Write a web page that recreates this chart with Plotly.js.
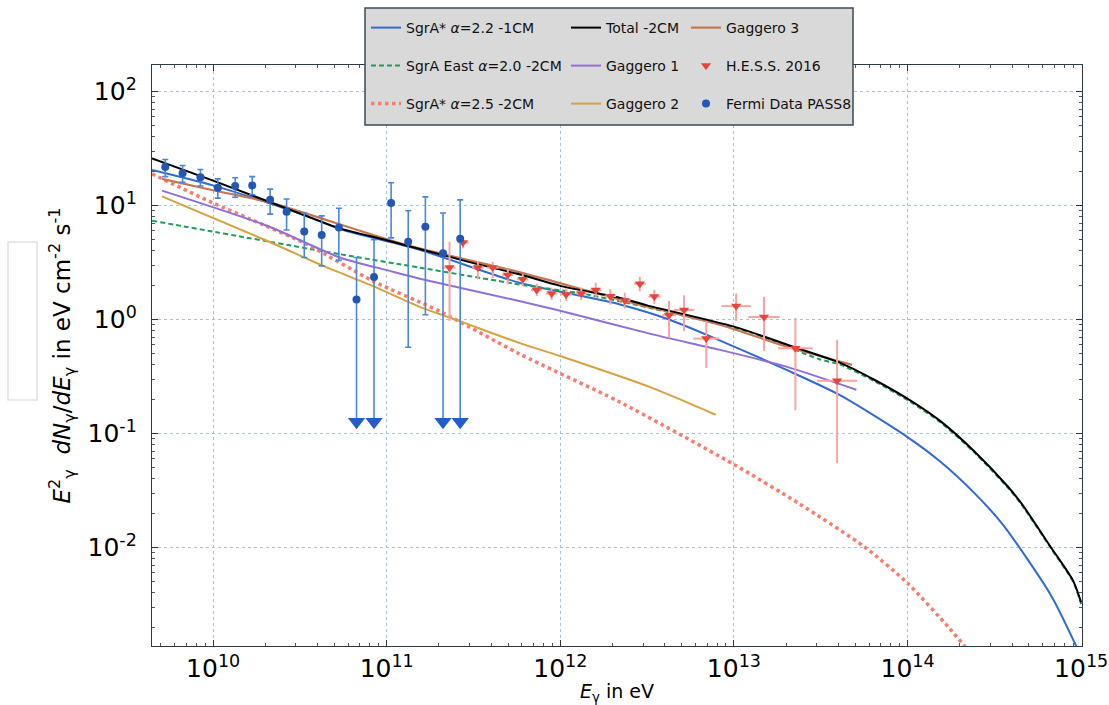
<!DOCTYPE html>
<html>
<head>
<meta charset="utf-8">
<script src="https://cdn.plot.ly/plotly-3.0.1.min.js"></script>
<style>html,body{margin:0;padding:0;background:#fff;}#chart{width:1109px;height:705px;}</style>
</head>
<body>
<div id="chart"></div>
<script>
// ---------- data (energies in eV, flux E^2 dN/dE in eV cm^-2 s^-1) ----------
const totalE = [4.45e9, 1e10, 3.16e10, 5.37e10, 1e11, 3.16e11, 5.8e11, 1e12, 2.19e12, 3.16e12, 1e13, 2.24e13, 4.13e13, 6.43e13, 1.02e14, 1.56e14, 2.43e14, 3.78e14, 4.52e14, 6.71e14, 9.0e14, 1e15];
const totalF = [25.9, 16.5, 8.5, 6.3, 4.95, 3.12, 2.49, 1.97, 1.55, 1.33, 0.865, 0.57, 0.414, 0.296, 0.198, 0.127, 0.0695, 0.0343, 0.0245, 0.0100, 0.0051, 0.0033];

const sgra22E = [4.45e9, 1e10, 3.16e10, 5.37e10, 1.55e11, 5.8e11, 1.13e12, 2.18e12, 4.23e12, 8.2e12, 1.98e13, 4.13e13, 1.0e14, 1.56e14, 2.43e14, 3.55e14, 6.71e14, 9.6e14];
const sgra22F = [20.5, 15.0, 8.5, 6.2, 4.08, 2.1, 1.69, 1.36, 1.0, 0.66, 0.365, 0.215, 0.093, 0.056, 0.030, 0.0158, 0.0038, 0.00126];

const sgraEastE = [4.45e9, 5.37e10, 1.55e11, 5.8e11, 1.41e12, 5.27e12, 1.27e13, 3.08e13, 4.13e13, 6.43e13, 1.02e14, 1.56e14, 2.43e14, 3.78e14, 4.52e14, 6.71e14, 9.0e14, 1e15];
const sgraEastF = [7.35, 3.74, 2.85, 2.03, 1.66, 1.07, 0.763, 0.45, 0.40, 0.288, 0.193, 0.124, 0.068, 0.0335, 0.024, 0.0098, 0.005, 0.0032];

const sgra25E = [4.45e9, 1e10, 1.63e10, 3.45e10, 8.34e10, 2.02e11, 5.8e11, 2.18e12, 9.77e12, 2.37e13, 5.71e13, 1.01e14, 1.72e14, 2.19e14];
const sgra25F = [18.9, 10.5, 7.6, 4.58, 2.17, 1.18, 0.50, 0.19, 0.0546, 0.0243, 0.01, 0.00479, 0.002, 0.0013];

const gag1E = [5.07e9, 2.04e10, 5.37e10, 1.04e11, 1.55e11, 5.8e11, 9.86e11, 3.4e12, 8.2e12, 1.98e13, 5.07e13];
const gag1F = [13.5, 6.64, 3.5, 2.67, 2.28, 1.45, 1.2, 0.74, 0.544, 0.388, 0.242];

const gag2E = [5.07e9, 2.04e10, 4.31e10, 8.34e10, 1.55e11, 2.63e11, 5.8e11, 9.86e11, 3.4e12, 7.85e12];
const gag2F = [12.0, 4.9, 2.95, 1.96, 1.29, 0.967, 0.623, 0.48, 0.25, 0.146];

const gag3E = [5.07e9, 1e10, 2.13e10, 1.3e11, 5.8e11, 2.18e12, 8.2e12, 1.98e13, 4.79e13];
const gag3F = [17.1, 13.6, 10.6, 4.5, 2.6, 1.5, 0.904, 0.582, 0.40];

// Fermi PASS8 data points
const fermiE  = [5.3e9, 6.67e9, 8.45e9, 1.064e10, 1.34e10, 1.68e10, 2.13e10, 2.65e10, 3.35e10, 4.22e10, 5.3e10, 1.06e11, 1.33e11, 1.67e11];
const fermiF  = [21.7, 19.2, 17.7, 14.3, 14.8, 15.0, 11.2, 8.8, 5.9, 5.5, 6.4, 10.5, 4.8, 6.5];
const fermiHi = [25.3, 22.4, 20.7, 17.1, 17.5, 17.9, 13.9, 11.4, 8.6, 8.1, 9.45, 15.8, 9.0, 11.9];
const fermiLo = [17.9, 16.0, 14.8, 11.6, 11.8, 12.4, 8.4, 6.1, 3.5, 2.95, 3.3, 5.2, 0.57, 1.10];
// Fermi upper limits (arrows)
const fermiULE  = [6.7e10, 8.45e10, 2.11e11, 2.65e11];
const fermiULF  = [1.5, 2.36, 3.8, 5.1];
const fermiULHi = [3.5, 5.0, 8.6, 11.2];
const fermiULArrow = 0.127;

// H.E.S.S. 2016
const hessE  = [2.30e11, 2.75e11, 3.35e11, 4.08e11, 4.98e11, 6.07e11, 7.31e11, 8.91e11, 1.08e12, 1.32e12, 1.60e12, 1.94e12, 2.35e12, 2.87e12, 3.48e12, 4.23e12, 5.16e12, 6.93e12, 1.03e13, 1.49e13, 2.26e13, 3.93e13];
const hessF  = [2.85, 4.74, 2.85, 2.85, 2.46, 2.25, 1.81, 1.69, 1.66, 1.69, 1.81, 1.60, 1.47, 2.06, 1.59, 1.09, 1.21, 0.68, 1.31, 1.05, 0.56, 0.29];
const hessHi = [4.8, 5.3, 3.26, 3.2, 2.78, 2.5, 2.05, 1.9, 1.88, 1.9, 2.1, 1.85, 1.72, 2.36, 1.82, 1.45, 1.63, 0.97, 1.69, 1.58, 1.03, 0.66];
const hessLo = [0.97, 4.2, 2.25, 2.3, 2.03, 1.96, 1.6, 1.48, 1.45, 1.48, 1.55, 1.35, 1.25, 1.77, 1.37, 0.69, 0.79, 0.375, 0.97, 0.53, 0.16, 0.055];
const hessBinDex = [0.035, 0.033, 0.033, 0.033, 0.033, 0.033, 0.033, 0.033, 0.033, 0.033, 0.033, 0.033, 0.033, 0.035, 0.035, 0.04, 0.06, 0.075, 0.085, 0.09, 0.1, 0.115];

// ticks
const xTickVals = [1e10, 1e11, 1e12, 1e13, 1e14, 1e15];
const xTickText = ['10<sup>10</sup>', '10<sup>11</sup>', '10<sup>12</sup>', '10<sup>13</sup>', '10<sup>14</sup>', '10<sup>15</sup>'];
const yTickVals = [0.01, 0.1, 1, 10, 100];
const yTickText = ['10<sup>-2</sup>', '10<sup>-1</sup>', '10<sup>0</sup>', '10<sup>1</sup>', '10<sup>2</sup>'];

// ---------- build ----------
function minorVals(n0, n1) { const v = []; for (let n = n0; n <= n1; n++) for (let k = 2; k <= 9; k++) v.push(k * Math.pow(10, n)); return v; }
const sub = (a, b) => a.map((v, i) => v - b[i]);

const C = {
  blue: '#2f6bd0', green: '#1f9e5a', salmon: '#fb7b6b', black: '#000000',
  purple: '#9070d8', gold: '#d8a23e', brown: '#c77650',
  hess: '#e8443a', hessErr: '#f7a59e', fermi: '#2258b4', fermiErr: '#4a86dc'
};
const sp = {shape: 'spline', smoothing: 0.7};

const traces = [
  {x: sgra22E, y: sgra22F, mode: 'lines', name: 'SgrA* <i>α</i>=2.2 -1CM', line: Object.assign({color: C.blue, width: 2}, sp), legend: 'legend'},
  {x: sgraEastE, y: sgraEastF, mode: 'lines', name: 'SgrA East <i>α</i>=2.0 -2CM', line: Object.assign({color: C.green, width: 2, dash: '5px,3px'}, sp), legend: 'legend2'},
  {x: sgra25E, y: sgra25F, mode: 'lines', name: 'SgrA* <i>α</i>=2.5 -2CM', line: Object.assign({color: C.salmon, width: 3.5, dash: '3.5px,3.5px'}, sp), legend: 'legend3'},
  {x: gag1E, y: gag1F, mode: 'lines', name: 'Gaggero 1', line: Object.assign({color: C.purple, width: 2}, sp), legend: 'legend5'},
  {x: gag2E, y: gag2F, mode: 'lines', name: 'Gaggero 2', line: Object.assign({color: C.gold, width: 2}, sp), legend: 'legend6'},
  {x: gag3E, y: gag3F, mode: 'lines', name: 'Gaggero 3', line: Object.assign({color: C.brown, width: 2.2}, sp), legend: 'legend7'},
  {x: totalE, y: totalF, mode: 'lines', name: 'Total -2CM', line: Object.assign({color: C.black, width: 2}, sp), legend: 'legend4'},
  {x: hessE, y: hessF, mode: 'markers', name: 'H.E.S.S. 2016', legend: 'legend8',
   marker: {symbol: 'triangle-down', size: 9, color: C.hess},
   error_y: {type: 'data', symmetric: false, array: sub(hessHi, hessF), arrayminus: sub(hessF, hessLo), color: C.hessErr, thickness: 2, width: 0},
   error_x: {type: 'data', symmetric: false,
     array: hessE.map((e, i) => e * (Math.pow(10, hessBinDex[i]) - 1)),
     arrayminus: hessE.map((e, i) => e * (1 - Math.pow(10, -hessBinDex[i]))),
     color: C.hessErr, thickness: 2, width: 0}},
  {x: fermiULE, y: fermiULF, mode: 'markers', showlegend: false,
   marker: {symbol: 'circle', size: 8, color: C.fermi},
   error_y: {type: 'data', symmetric: false, array: sub(fermiULHi, fermiULF), arrayminus: fermiULF.map(v => v - fermiULArrow), color: C.fermiErr, thickness: 1.6, width: 3}},
  {x: fermiULE, y: fermiULE.map(() => fermiULArrow), mode: 'markers', showlegend: false,
   marker: {symbol: 'triangle-down', size: 15, color: '#1f5fc8'}},
  {x: fermiE, y: fermiF, mode: 'markers', name: 'Fermi Data PASS8', legend: 'legend9',
   marker: {symbol: 'circle', size: 8, color: C.fermi},
   error_y: {type: 'data', symmetric: false, array: sub(fermiHi, fermiF), arrayminus: sub(fermiF, fermiLo), color: C.fermiErr, thickness: 1.6, width: 3}}
];

// legend layout helpers (paper coords)
const pl = 152, pw = 930, pt = 65, ph = 581;
const px = v => (v - pl) / pw;
const py = v => 1 - (v - pt) / ph;
const legFont = {family: 'DejaVu Sans, sans-serif', size: 14, color: '#111'};
function leg(xp, yp) { return {x: px(xp), y: py(yp), xanchor: 'left', yanchor: 'middle', bgcolor: 'rgba(0,0,0,0)', borderwidth: 0, font: legFont, itemwidth: 30, itemclick: false}; }
const col = [366, 566, 686], row = [28, 66, 104];

const gridColor = '#a9c2da';
const axisFont = {family: 'DejaVu Sans, sans-serif', size: 25, color: '#000'};
const layout = {
  width: 1109, height: 705,
  margin: {l: 152, r: 27, t: 65, b: 59, pad: 0},
  paper_bgcolor: '#fff', plot_bgcolor: '#fff',
  font: {family: 'DejaVu Sans, sans-serif'},
  xaxis: {type: 'log', range: [9.648, 15.005], tickmode: 'array', tickvals: xTickVals, ticktext: xTickText,
    tickfont: axisFont, ticks: 'inside', ticklen: 6, tickcolor: '#333', showline: true, linecolor: '#2b3a44', linewidth: 1.2, mirror: 'ticks',
    showgrid: true, gridcolor: gridColor, griddash: 'dot', gridwidth: 1, zeroline: false,
    minor: {tickmode: 'array', tickvals: minorVals(9, 14), ticks: 'inside', ticklen: 3, tickcolor: '#555', showgrid: false},
    title: {text: '<i>E</i><sub>γ</sub> in eV', font: {family: 'DejaVu Sans, sans-serif', size: 19, color: '#000'}, standoff: 0}},
  yaxis: {type: 'log', range: [-2.864, 2.232], tickmode: 'array', tickvals: yTickVals, ticktext: yTickText,
    tickfont: axisFont, ticks: 'inside', ticklen: 6, tickcolor: '#333', showline: true, linecolor: '#2b3a44', linewidth: 1.2, mirror: 'ticks',
    ticklabelstandoff: 9,
    showgrid: true, gridcolor: gridColor, griddash: 'dot', gridwidth: 1, zeroline: false,
    minor: {tickmode: 'array', tickvals: minorVals(-3, 2), ticks: 'inside', ticklen: 3, tickcolor: '#555', showgrid: false},
    title: {text: '<i>E</i><sup>2</sup><sub>γ</sub>  <i>dN</i><sub>γ</sub>/<i>dE</i><sub>γ</sub> in eV cm<sup>-2</sup> s<sup>-1</sup>', font: {family: 'DejaVu Sans, sans-serif', size: 23, color: '#000'}, standoff: 10}},
  legend:  leg(col[0], row[0]), legend2: leg(col[0], row[1]), legend3: leg(col[0], row[2]),
  legend4: leg(col[1], row[0]), legend5: leg(col[1], row[1]), legend6: leg(col[1], row[2]),
  legend7: leg(col[2], row[0]), legend8: leg(col[2], row[1]), legend9: leg(col[2], row[2]),
  shapes: [
    {type: 'rect', xref: 'paper', yref: 'paper', x0: px(365), x1: px(853), y0: py(125), y1: py(8), layer: 'above',
     fillcolor: '#d9d9d9', line: {color: '#3b4b52', width: 1.5}},
    {type: 'rect', xref: 'paper', yref: 'paper', x0: px(8), x1: px(37), y0: py(400), y1: py(242), layer: 'above',
     fillcolor: 'rgba(0,0,0,0)', line: {color: '#e2e2e2', width: 1.5}}
  ],
  showlegend: true
};

Plotly.newPlot('chart', traces, layout, {staticPlot: true, displayModeBar: false});
</script>
</body>
</html>
